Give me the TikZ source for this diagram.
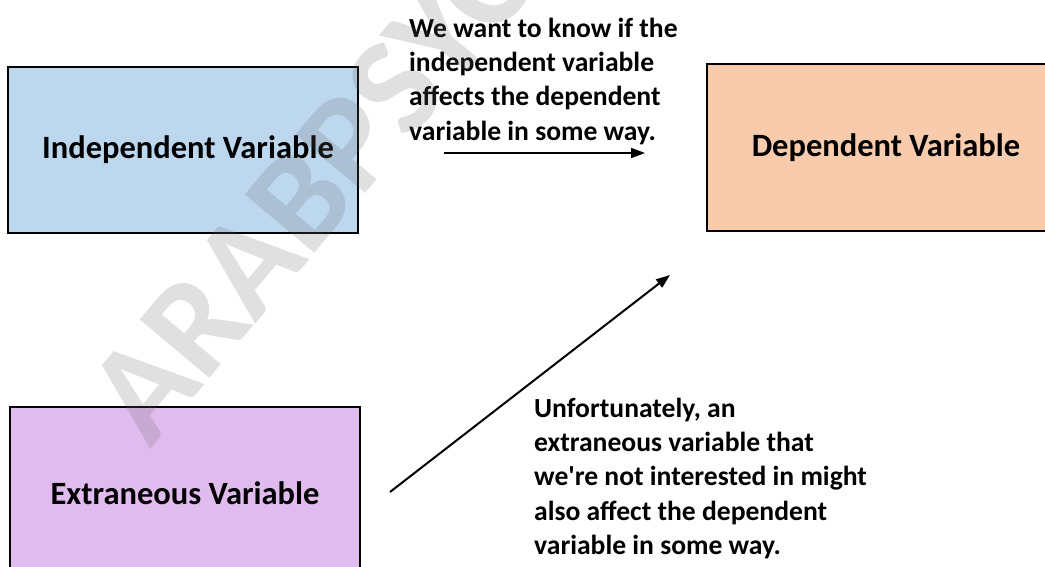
\documentclass[tikz,border=0pt]{standalone}
\usepackage{fontspec}
\setmainfont{Carlito}[Ligatures=TeXOff]
\usetikzlibrary{arrows.meta}
\definecolor{ivblue}{HTML}{BDD7EE}
\definecolor{dvorange}{HTML}{F8CBAD}
\definecolor{evpurple}{HTML}{E0BBEE}
\definecolor{wmgray}{RGB}{100,100,100}
\tikzset{
  varbox/.style={draw=black, line width=2pt, inner sep=0pt, align=center,
    font=\fontsize{32.5}{38}\selectfont\bfseries},
  note/.style={inner sep=0pt, align=left, anchor=north west,
    font=\fontsize{27.6}{34.2}\selectfont\bfseries},
  link/.style={line width=2pt, -{Triangle[length=14pt,width=10pt]}},
  watermark/.style={text=wmgray, text opacity=0.2, inner sep=0pt,
    font=\fontsize{140}{140}\selectfont\bfseries}
}
\begin{document}
\begin{tikzpicture}[x=1pt,y=-1pt]
\useasboundingbox (0,0) rectangle (1045,567);
\clip (0,0) rectangle (1045,567);
% boxes
\node[varbox, fill=ivblue, minimum width=350pt, minimum height=166pt] (iv) at (183,150) {\hspace*{10pt}Independent Variable};
\node[varbox, fill=dvorange, minimum width=358pt, minimum height=167pt] (dv) at (886,147.5) {Dependent Variable};
\node[varbox, fill=evpurple, minimum width=350pt, minimum height=172pt] (ev) at (185,493) {Extraneous Variable};
% notes
\node[note] (n1) at (409,18) {We want to know if the\\independent variable\\affects the dependent\\variable in some way.};
\node[note] (n2) at (534,398) {Unfortunately, an\\extraneous variable that\\we're not interested in might\\also affect the dependent\\variable in some way.};
% arrows
\coordinate (a1s) at (444,153);
\coordinate (a1e) at (645,153);
\coordinate (a2s) at (390,492);
\coordinate (a2e) at (670,275);
\draw[link] (a1s) -- (a1e);
\draw[link] (a2s) -- (a2e);
% watermark
\node[watermark, rotate=50, anchor=base west] (wm) at (150,450) {ARABPSYCHOLOGY};
\end{tikzpicture}
\end{document}
